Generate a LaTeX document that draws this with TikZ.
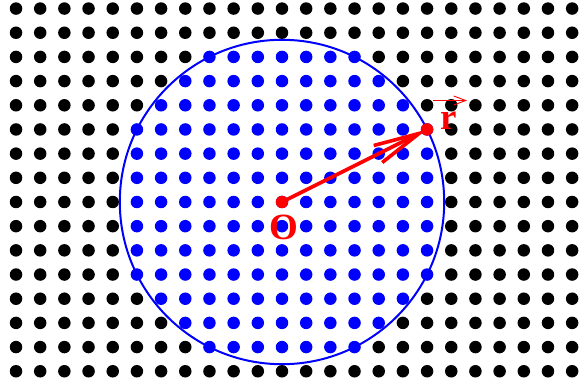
\documentclass[tikz,border=0pt]{standalone}
\usepackage{fontspec}
\setmainfont{Liberation Serif}
\usetikzlibrary{arrows.meta}
\begin{document}
\begin{tikzpicture}[x=1pt,y=-1pt,
  dot/.style={circle,fill=black,inner sep=0pt,minimum size=12.5pt},
  bdot/.style={dot,fill=blue},
  rdot/.style={dot,fill=red},
  ring/.style={draw=blue,line width=2pt,circle,inner sep=0pt,minimum size=324.4pt},
  vec/.style={draw=red,line width=3.6pt,-{Straight Barb[length=46pt,width=19pt]}},
  smallvec/.style={draw=red,line width=0.9pt,-{Straight Barb[length=12pt,width=9pt]}},
  lbl/.style={text=red,font=\fontsize{37}{37}\selectfont\bfseries,inner sep=0pt}]
\useasboundingbox (0,0) rectangle (579,385);
\def\sp{24.18}
\foreach \i in {-11,...,12}{
  \foreach \j in {-8,...,7}{
    \pgfmathtruncatemacro\dd{\i*\i+\j*\j}
    \ifnum\dd>45
      \node[dot] (d\i_\j) at (282+\i*\sp,202+\j*\sp) {};
    \else
      \node[bdot] (d\i_\j) at (282+\i*\sp,202+\j*\sp) {};
    \fi
  }}
\coordinate (Oc) at (282,202);
\coordinate (Rc) at (282+6*\sp,202-3*\sp);
\node[ring] (C) at (Oc) {};
\draw[vec] (Oc) -- (Rc);
\node[rdot] (O) at (Oc) {};
\node[rdot] (R) at (Rc) {};
\node[lbl] (Olbl) at (284,227) {O};
\node[lbl] (rlbl) at (449,120.5) {r};
\coordinate (va) at (433,100.5);
\coordinate (vb) at (467,100.5);
\draw[smallvec] (va) -- (vb);
\end{tikzpicture}
\end{document}
